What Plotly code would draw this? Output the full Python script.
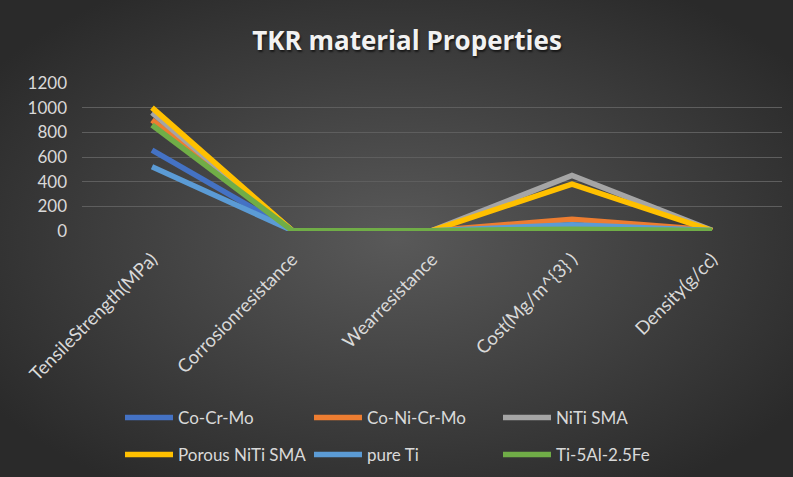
import base64
import plotly.graph_objects as go

# Property categories along the x axis
categories = [
    "TensileStrength(MPa)",
    "Corrosionresistance",
    "Wearresistance",
    "Cost(Mg/m^{3} )",
    "Density(g/cc)",
]

# One value list per material, in category order
co_cr_mo = [655, 4, 3, 35, 8.3]
co_ni_cr_mo = [900, 4, 3, 95, 8.4]
niti_sma = [960, 5, 3, 450, 6.5]
porous_niti_sma = [1000, 5, 3, 380, 4.0]
pure_ti = [520, 5, 2, 50, 4.5]
ti_5al_2_5fe = [860, 5, 3, 15, 4.45]

series_names = ["Co-Cr-Mo", "Co-Ni-Cr-Mo", "NiTi SMA",
                "Porous NiTi SMA", "pure Ti", "Ti-5Al-2.5Fe"]
series_values = [co_cr_mo, co_ni_cr_mo, niti_sma,
                 porous_niti_sma, pure_ti, ti_5al_2_5fe]
series_colors = ["#4472C4", "#ED7D31", "#A5A5A5",
                 "#FFC000", "#5B9BD5", "#70AD47"]
series_legend = ["legend", "legend", "legend",
                 "legend2", "legend2", "legend2"]

y_ticks = [0, 200, 400, 600, 800, 1000, 1200]

FONT = "Lato"
TEXT = "#d9d9d9"
W, H = 793, 477
ML, MR, MT, MB = 82, 11, 83, 246
PW, PH = W - ML - MR, H - MT - MB

fig = go.Figure()
for name, vals, col, lg in zip(series_names, series_values,
                               series_colors, series_legend):
    fig.add_trace(go.Scatter(
        x=categories, y=vals, name=name, mode="lines",
        line=dict(color=col, width=5.5),
        legend=lg,
    ))

# Radial shaded backdrop covering the whole canvas
svg = (
    f'<svg xmlns="http://www.w3.org/2000/svg" width="{W}" height="{H}">'
    '<defs><radialGradient id="g" cx="50%" cy="50%" r="62%">'
    '<stop offset="0%" stop-color="#595959"/>'
    '<stop offset="100%" stop-color="#2a2a2a"/>'
    '</radialGradient></defs>'
    f'<rect width="{W}" height="{H}" fill="url(#g)"/></svg>'
)
bg_src = "data:image/svg+xml;base64," + base64.b64encode(svg.encode()).decode()

legend_common = dict(
    orientation="h",
    xref="container", yref="container",
    xanchor="left", yanchor="middle",
    font=dict(family=FONT, size=17, color=TEXT),
    bgcolor="rgba(0,0,0,0)",
    entrywidth=126, entrywidthmode="pixels",
    itemwidth=48,
)

fig.update_layout(
    width=W, height=H,
    margin=dict(l=ML, r=MR, t=MT, b=MB),
    paper_bgcolor="#404040",
    plot_bgcolor="rgba(0,0,0,0)",
    images=[dict(source=bg_src, xref="paper", yref="paper",
                 x=-ML / PW, y=1 + MT / PH, sizex=W / PW, sizey=H / PH,
                 xanchor="left", yanchor="top",
                 layer="below", sizing="stretch")],
    title=dict(
        text="<b>TKR material Properties</b>",
        x=407 / W, xanchor="center", y=1 - 41 / H, yanchor="middle",
        font=dict(family="Open Sans", size=26, color="#f2f2f2",
                  shadow="1px 2px 2px rgba(0,0,0,0.6)"),
    ),
    legend=dict(legend_common, x=120 / W, y=1 - 418 / H),
    legend2=dict(legend_common, x=120 / W, y=1 - 455 / H),
    xaxis=dict(
        type="category",
        range=[-0.5, 4.5],
        tickangle=-45,
        tickfont=dict(family=FONT, size=18.5, color=TEXT),
        showgrid=False, zeroline=False, showline=False,
        ticks="", ticklabelstandoff=13,
    ),
    yaxis=dict(
        range=[0, 1200],
        tickvals=y_ticks,
        tickfont=dict(family=FONT, size=17, color=TEXT),
        gridcolor="#5e5e5e", gridwidth=1,
        zeroline=False, showline=False,
        ticks="", ticklabelstandoff=14,
    ),
)

fig.write_html("out.html")
